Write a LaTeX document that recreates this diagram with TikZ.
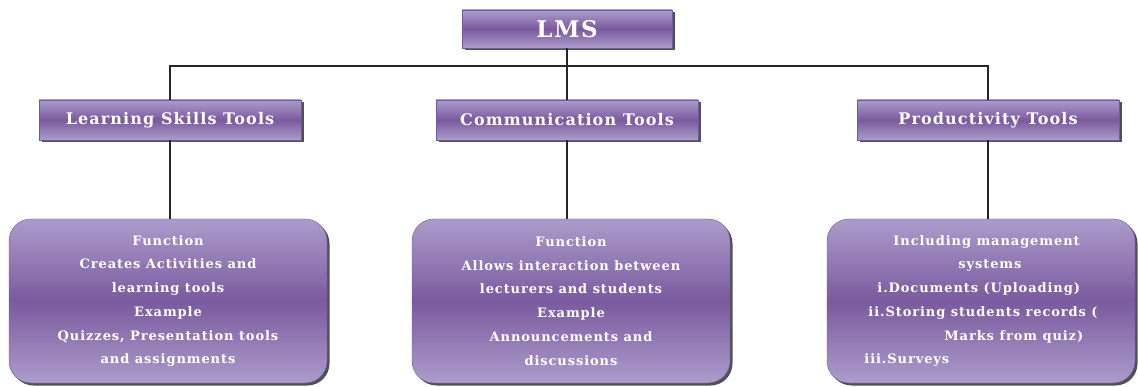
\documentclass[tikz,border=0pt]{standalone}
\usepackage{fontspec}
\setmainfont{DejaVu Serif}
\newfontfamily\boxfont[LetterSpace=7]{DejaVu Serif}
\usetikzlibrary{shadows}
\definecolor{lmslight}{HTML}{AC9CCB}
\definecolor{lmsdark}{HTML}{7A5A9E}
\definecolor{lmsedge}{HTML}{7358A0}
\tikzset{
  purplefill/.style={draw=lmsedge, top color=lmslight, bottom color=lmslight,
    middle color=lmsdark, text=white,
    drop shadow={shadow xshift=2.5pt, shadow yshift=-2.5pt, fill=black!80, opacity=0.85}},
  headbox/.style={purplefill, minimum width=262pt, minimum height=40pt,
    font=\boxfont\bfseries\fontsize{16}{18}\selectfont},
  infobox/.style={purplefill, rounded corners=22pt, minimum width=318pt,
    minimum height=164pt, align=center, font=\boxfont\bfseries\fontsize{13}{23.7}\selectfont},
  link/.style={draw=black!85, line width=1.2pt}
}
\begin{document}
\begin{tikzpicture}[x=1pt,y=-1pt]
  \useasboundingbox (0,0) rectangle (1138,387);
  \node[headbox, minimum width=210pt, minimum height=38pt,
    font=\boxfont\bfseries\fontsize{23}{25}\selectfont] (lms) at (567,29) {LMS};
  \node[headbox] (learn) at (170,120) {Learning Skills Tools};
  \node[headbox] (comm) at (567,120) {Communication Tools};
  \node[headbox] (prod) at (988,120) {Productivity Tools};
  \node[infobox] (learnbox) at (168,301) {Function\\Creates Activities and\\learning tools\\Example\\Quizzes, Presentation tools\\and assignments};
  \node[infobox] (commbox) at (571,301) {Function\\Allows interaction between\\lecturers and students\\Example\\Announcements and\\discussions};
  \node[infobox, minimum width=308pt, align=left] (prodbox) at (981,301)
    {\hspace*{29pt}Including management\\\hspace*{94pt}systems\\\hspace*{13pt}i.Documents (Uploading)\\\hspace*{4pt}ii.Storing students records (\\\hspace*{80pt}Marks from quiz)\\iii.Surveys};
  \coordinate (bus) at (567,66);
  \begin{scope}[link]
    \draw (lms) -- (comm);
    \draw (learn) |- (bus) -| (prod);
    \draw (learn) -- (learn |- learnbox.north);
    \draw (comm) -- (comm |- commbox.north);
    \draw (prod) -- (prod |- prodbox.north);
  \end{scope}
\end{tikzpicture}
\end{document}
